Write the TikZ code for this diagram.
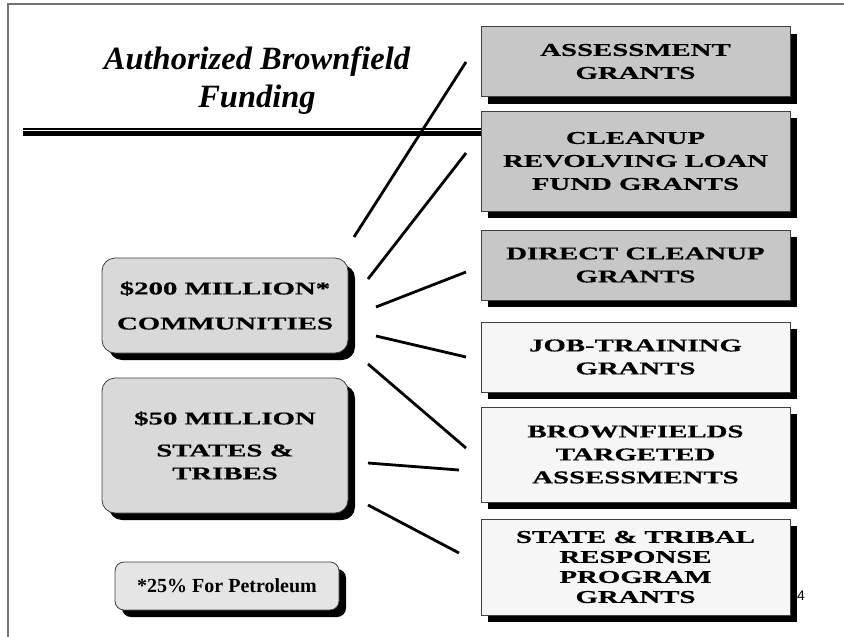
\documentclass[tikz,border=0pt]{standalone}
\usepackage{fontspec}
\setmainfont{Liberation Serif}
\newfontfamily\platefont[FakeStretch=1.6, FakeBold=0.6]{Liberation Serif}
\newfontfamily\pagefont{Liberation Sans}

\definecolor{grantgray}{gray}{0.78}
\definecolor{grantpale}{gray}{0.965}
\definecolor{fundgray}{gray}{0.85}
\definecolor{notegray}{gray}{0.9}
\definecolor{framegray}{gray}{0.45}

\tikzset{
  grant/.style={draw=black!75, line width=0.8pt, minimum width=309pt, inner sep=0pt,
    align=center, font=\platefont\bfseries\fontsize{18}{23}\selectfont,
    preaction={fill=black, draw=none, transform canvas={shift={(7pt,-7pt)}}}},
  fund/.style={grant, rounded corners=13pt, minimum width=246pt},
  spoke/.style={line width=2.8pt}
}

\begin{document}
\begin{tikzpicture}[x=1pt, y=-1pt]
    \useasboundingbox (0,0) rectangle (844,637);

    % Slide frame
    \draw[framegray, line width=1.5pt] (8,637) -- (8,4) -- (844,4);

    % Title
    \node[font=\bfseries\itshape\fontsize{32.5}{38}\selectfont, align=center] (title) at (257,81)
        {Authorized Brownfield\\Funding};

    % Double rule under the title
    \draw[line width=1.7pt] (23,129.2) -- (481,129.2);
    \draw[line width=5pt] (23,133.6) -- (481,133.6);

    % Page number (partly behind the last shadow)
    \node[font=\pagefont\fontsize{14}{14}\selectfont] (pageno) at (801,596) {4};

    % Grant boxes
    \node[grant, fill=grantgray, minimum height=70pt] (assess) at (635.5,61.5)
        {ASSESSMENT\\GRANTS};
    \node[grant, fill=grantgray, minimum height=100pt] (rlf) at (635.5,161)
        {CLEANUP\\REVOLVING LOAN\\FUND GRANTS};
    \node[grant, fill=grantgray, minimum height=70pt] (direct) at (635.5,265)
        {DIRECT CLEANUP\\GRANTS};
    \node[grant, fill=grantpale, minimum height=70pt] (jobs) at (635.5,357)
        {JOB-TRAINING\\GRANTS};
    \node[grant, fill=grantpale, minimum height=95pt] (tba) at (635.5,454.5)
        {BROWNFIELDS\\TARGETED\\ASSESSMENTS};
    \node[grant, fill=grantpale, minimum height=96pt,
          font=\platefont\bfseries\fontsize{18}{20}\selectfont] (tribal) at (635.5,567)
        {STATE \& TRIBAL\\RESPONSE\\PROGRAM\\GRANTS};

    % Funding boxes
    \node[fund, fill=fundgray, minimum height=95pt] (communities) at (225,305.5)
        {\$200 MILLION*\\[12pt]COMMUNITIES};
    \node[fund, fill=fundgray, minimum height=135pt] (states) at (225,445.5)
        {\$50 MILLION\\[9pt]STATES \&\\TRIBES};
    \node[fund, fill=notegray, minimum width=224pt, minimum height=48pt,
          rounded corners=9pt, font=\bfseries\fontsize{20}{20}\selectfont] (petrol) at (227,586)
        {*25\% For Petroleum};

    % Spokes
    \coordinate (s1) at (354,237);  \coordinate (e1) at (466,62);
    \coordinate (s2) at (368,279);  \coordinate (e2) at (466,153);
    \coordinate (s3) at (376,307);  \coordinate (e3) at (466,272);
    \coordinate (s4) at (376,336);  \coordinate (e4) at (466,357);
    \coordinate (s5) at (368,364);  \coordinate (e5) at (466,448);
    \coordinate (s6) at (368,463);  \coordinate (e6) at (459,470);
    \coordinate (s7) at (368,505);  \coordinate (e7) at (459,553);
    \foreach \i in {1,...,7}
        \draw[spoke] (s\i) -- (e\i);
\end{tikzpicture}
\end{document}
